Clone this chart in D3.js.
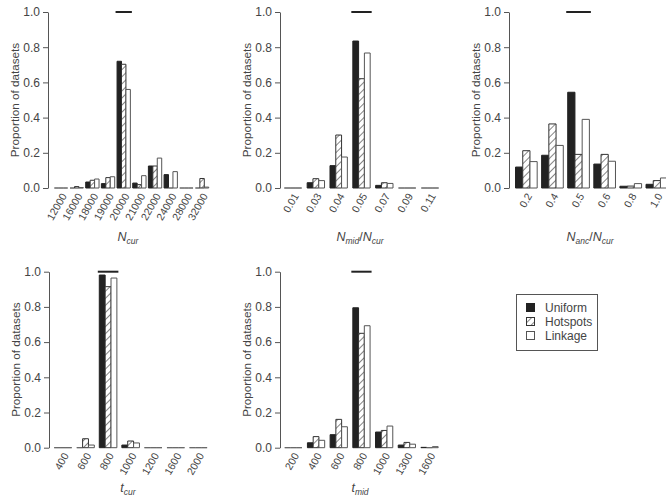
<!DOCTYPE html>
<html>
<head>
<meta charset="utf-8">
<script src="https://cdn.jsdelivr.net/npm/d3@7"></script>
<style>
  body { margin: 0; background: #fff; }
  text { font-family: "Liberation Sans", Arial, Helvetica, sans-serif; fill: #444; }
</style>
</head>
<body>
<div id="graph"></div>
<script>
// series names
var seriesNames = ["Uniform", "Hotspots", "Linkage"];

// panel 1: N_cur
var nCurCats     = ["12000","16000","18000","19000","20000","21000","22000","24000","28000","32000"];
var nCurUniform  = [0, 0, 0.034, 0.025, 0.72, 0.028, 0.125, 0.076, 0, 0];
var nCurHotspots = [0, 0.008, 0.044, 0.059, 0.703, 0.019, 0.125, 0, 0, 0.054];
var nCurLinkage  = [0, 0.002, 0.051, 0.064, 0.56, 0.07, 0.17, 0.093, 0, 0.005];

// panel 2: N_mid / N_cur
var midCats     = ["0.01","0.03","0.04","0.05","0.07","0.09","0.11"];
var midUniform  = [0, 0.03, 0.127, 0.835, 0.015, 0, 0];
var midHotspots = [0, 0.053, 0.301, 0.621, 0.03, 0, 0];
var midLinkage  = [0, 0.042, 0.176, 0.767, 0.026, 0, 0];

// panel 3: N_anc / N_cur
var ancCats     = ["0.2","0.4","0.5","0.6","0.8","1.0"];
var ancUniform  = [0.119, 0.186, 0.544, 0.136, 0.01, 0.021];
var ancHotspots = [0.212, 0.364, 0.191, 0.191, 0.011, 0.042];
var ancLinkage  = [0.15, 0.242, 0.39, 0.152, 0.025, 0.057];

// panel 4: t_cur
var tCurCats     = ["400","600","800","1000","1200","1600","2000"];
var tCurUniform  = [0, 0, 0.981, 0.015, 0, 0, 0];
var tCurHotspots = [0, 0.051, 0.915, 0.038, 0, 0, 0];
var tCurLinkage  = [0, 0.015, 0.964, 0.027, 0, 0, 0];

// panel 5: t_mid
var tMidCats     = ["200","400","600","800","1000","1300","1600"];
var tMidUniform  = [0, 0.028, 0.074, 0.795, 0.089, 0.015, 0.002];
var tMidHotspots = [0, 0.063, 0.161, 0.65, 0.098, 0.03, 0];
var tMidLinkage  = [0, 0.042, 0.119, 0.693, 0.123, 0.02, 0.006];

// true value of each parameter (horizontal line at 1.0)
var trueValues = ["20000", "0.05", "0.5", "800", "800"];

var yTicks = [0, 0.2, 0.4, 0.6, 0.8, 1.0];

var width = 666, height = 498;

// title parts: [text, kind] kind: 0 = main italic, 1 = subscript, 2 = plain
var panels = [
  { cats: nCurCats, vals: [nCurUniform, nCurHotspots, nCurLinkage], truth: trueValues[0],
    axisX: 48, x0: 53.2, x1: 209.9, pad: 0.15, top: 12, bottom: 188, titleY: 241, titleX: 128,
    title: [["N", 0], ["cur", 1]] },
  { cats: midCats, vals: [midUniform, midHotspots, midLinkage], truth: trueValues[1],
    axisX: 280, x0: 281.6, x1: 441.4, pad: 0.24, top: 12, bottom: 188, titleY: 241, titleX: 360,
    title: [["N", 0], ["mid", 1], ["/", 2], ["N", 0], ["cur", 1]] },
  { cats: ancCats, vals: [ancUniform, ancHotspots, ancLinkage], truth: trueValues[2],
    axisX: 509, x0: 513.3, x1: 669.9, pad: 0.17, top: 12, bottom: 188, titleY: 241, titleX: 590,
    title: [["N", 0], ["anc", 1], ["/", 2], ["N", 0], ["cur", 1]] },
  { cats: tCurCats, vals: [tCurUniform, tCurHotspots, tCurLinkage], truth: trueValues[3],
    axisX: 49, x0: 51.7, x1: 209.6, pad: 0.22, top: 271.7, bottom: 447.7, titleY: 492, titleX: 128,
    title: [["t", 0], ["cur", 1]] },
  { cats: tMidCats, vals: [tMidUniform, tMidHotspots, tMidLinkage], truth: trueValues[4],
    axisX: 280, x0: 282, x1: 440.9, pad: 0.24, top: 271.7, bottom: 447.7, titleY: 492, titleX: 360,
    title: [["t", 0], ["mid", 1]] }
];

var svg = d3.select('#graph')
  .append('svg')
  .attr('width', width)
  .attr('height', height);

var defs = svg.append('defs');
var hatch = defs.append('pattern')
  .attr('id', 'hatch')
  .attr('patternUnits', 'userSpaceOnUse')
  .attr('width', 5)
  .attr('height', 5)
  .attr('patternTransform', 'rotate(45)');
hatch.append('rect').attr('width', 5).attr('height', 5).attr('fill', '#fff');
hatch.append('line')
  .attr('x1', 0).attr('y1', 0).attr('x2', 0).attr('y2', 5)
  .attr('stroke', '#333').attr('stroke-width', 1.2);

var fills = ['#222', 'url(#hatch)', '#fff'];
var strokes = ['#222', '#333', '#555'];

panels.forEach(function(p) {
  var g = svg.append('g');

  var y = d3.scaleLinear().domain([0, 1]).range([p.bottom, p.top]);
  var x = d3.scaleBand().domain(p.cats).range([p.x0, p.x1])
    .paddingInner(p.pad).paddingOuter(p.pad / 2);
  var xs = d3.scaleBand().domain(seriesNames).range([0, x.bandwidth()]);

  // y axis
  var ax = g.append('g')
    .attr('transform', 'translate(' + p.axisX + ',0)')
    .call(d3.axisLeft(y).tickValues(yTicks).tickFormat(d3.format('.1f'))
      .tickSize(5).tickSizeOuter(0));
  ax.select('.domain').attr('stroke', '#555');
  ax.selectAll('.tick line').attr('stroke', '#555');
  ax.selectAll('.tick text')
    .attr('x', -8)
    .style('font-size', '12px')
    .style('font-family', '"Liberation Sans", Arial, sans-serif')
    .attr('fill', '#444');

  g.append('text')
    .attr('transform', 'translate(' + (p.axisX - 33) + ',' + ((p.top + p.bottom) / 2) + ') rotate(-90)')
    .attr('text-anchor', 'middle')
    .attr('dy', '0.35em')
    .style('font-size', '11.7px')
    .text('Proportion of datasets');

  // bars
  p.vals.forEach(function(series, si) {
    g.selectAll('path.s' + si)
      .data(p.cats.map(function(c, i) { return { cat: c, v: series[i] }; }))
      .enter()
      .append('path')
      .attr('class', 's' + si)
      .attr('d', function(d) {
        var bx = x(d.cat) + xs(seriesNames[si]);
        var bw = xs.bandwidth();
        return 'M' + bx + ',' + y(0) + 'V' + y(d.v) + 'H' + (bx + bw) + 'V' + y(0) + 'Z';
      })
      .attr('fill', fills[si])
      .attr('stroke', function(d) { return d.v === 0 ? '#666' : strokes[si]; })
      .attr('stroke-width', 1);
  });

  // true value line
  g.append('line')
    .attr('x1', x(p.truth) - 1.5)
    .attr('x2', x(p.truth) + x.bandwidth() + 1.5)
    .attr('y1', y(1)).attr('y2', y(1))
    .attr('stroke', '#222')
    .attr('stroke-width', 2);

  // category labels
  g.selectAll('text.cat')
    .data(p.cats)
    .enter()
    .append('text')
    .attr('class', 'cat')
    .attr('text-anchor', 'end')
    .attr('transform', function(d) {
      return 'translate(' + (x(d) + x.bandwidth() / 2 + 3) + ',' + (p.bottom + 6) + ') rotate(-60)';
    })
    .attr('dy', '0.35em')
    .style('font-size', '10.5px')
    .text(function(d) { return d; });

  // axis title
  var t = g.append('text')
    .attr('x', p.titleX)
    .attr('y', p.titleY)
    .attr('text-anchor', 'middle')
    .style('font-size', '12.5px')
    .style('font-style', 'italic');
  var low = false;
  p.title.forEach(function(part) {
    var ts = t.append('tspan').text(part[0]);
    if (part[1] === 1) {
      ts.style('font-size', '8.5px');
      if (!low) { ts.attr('dy', 3); low = true; }
    } else {
      if (low) { ts.attr('dy', -3); low = false; }
      if (part[1] === 2) ts.style('font-style', 'normal');
    }
  });
});

// legend
var leg = svg.append('g');
leg.append('rect')
  .attr('x', 516.5).attr('y', 294.5)
  .attr('width', 81).attr('height', 56)
  .attr('fill', '#fff').attr('stroke', '#555');
seriesNames.forEach(function(name, i) {
  var cy = 308 + i * 14;
  leg.append('rect')
    .attr('x', 526.5).attr('y', cy - 4.5)
    .attr('width', 8).attr('height', 8)
    .attr('fill', fills[i]).attr('stroke', strokes[i]);
  leg.append('text')
    .attr('x', 545).attr('y', cy)
    .attr('dy', '0.35em')
    .style('font-size', '12px')
    .text(name);
});
</script>
</body>
</html>
